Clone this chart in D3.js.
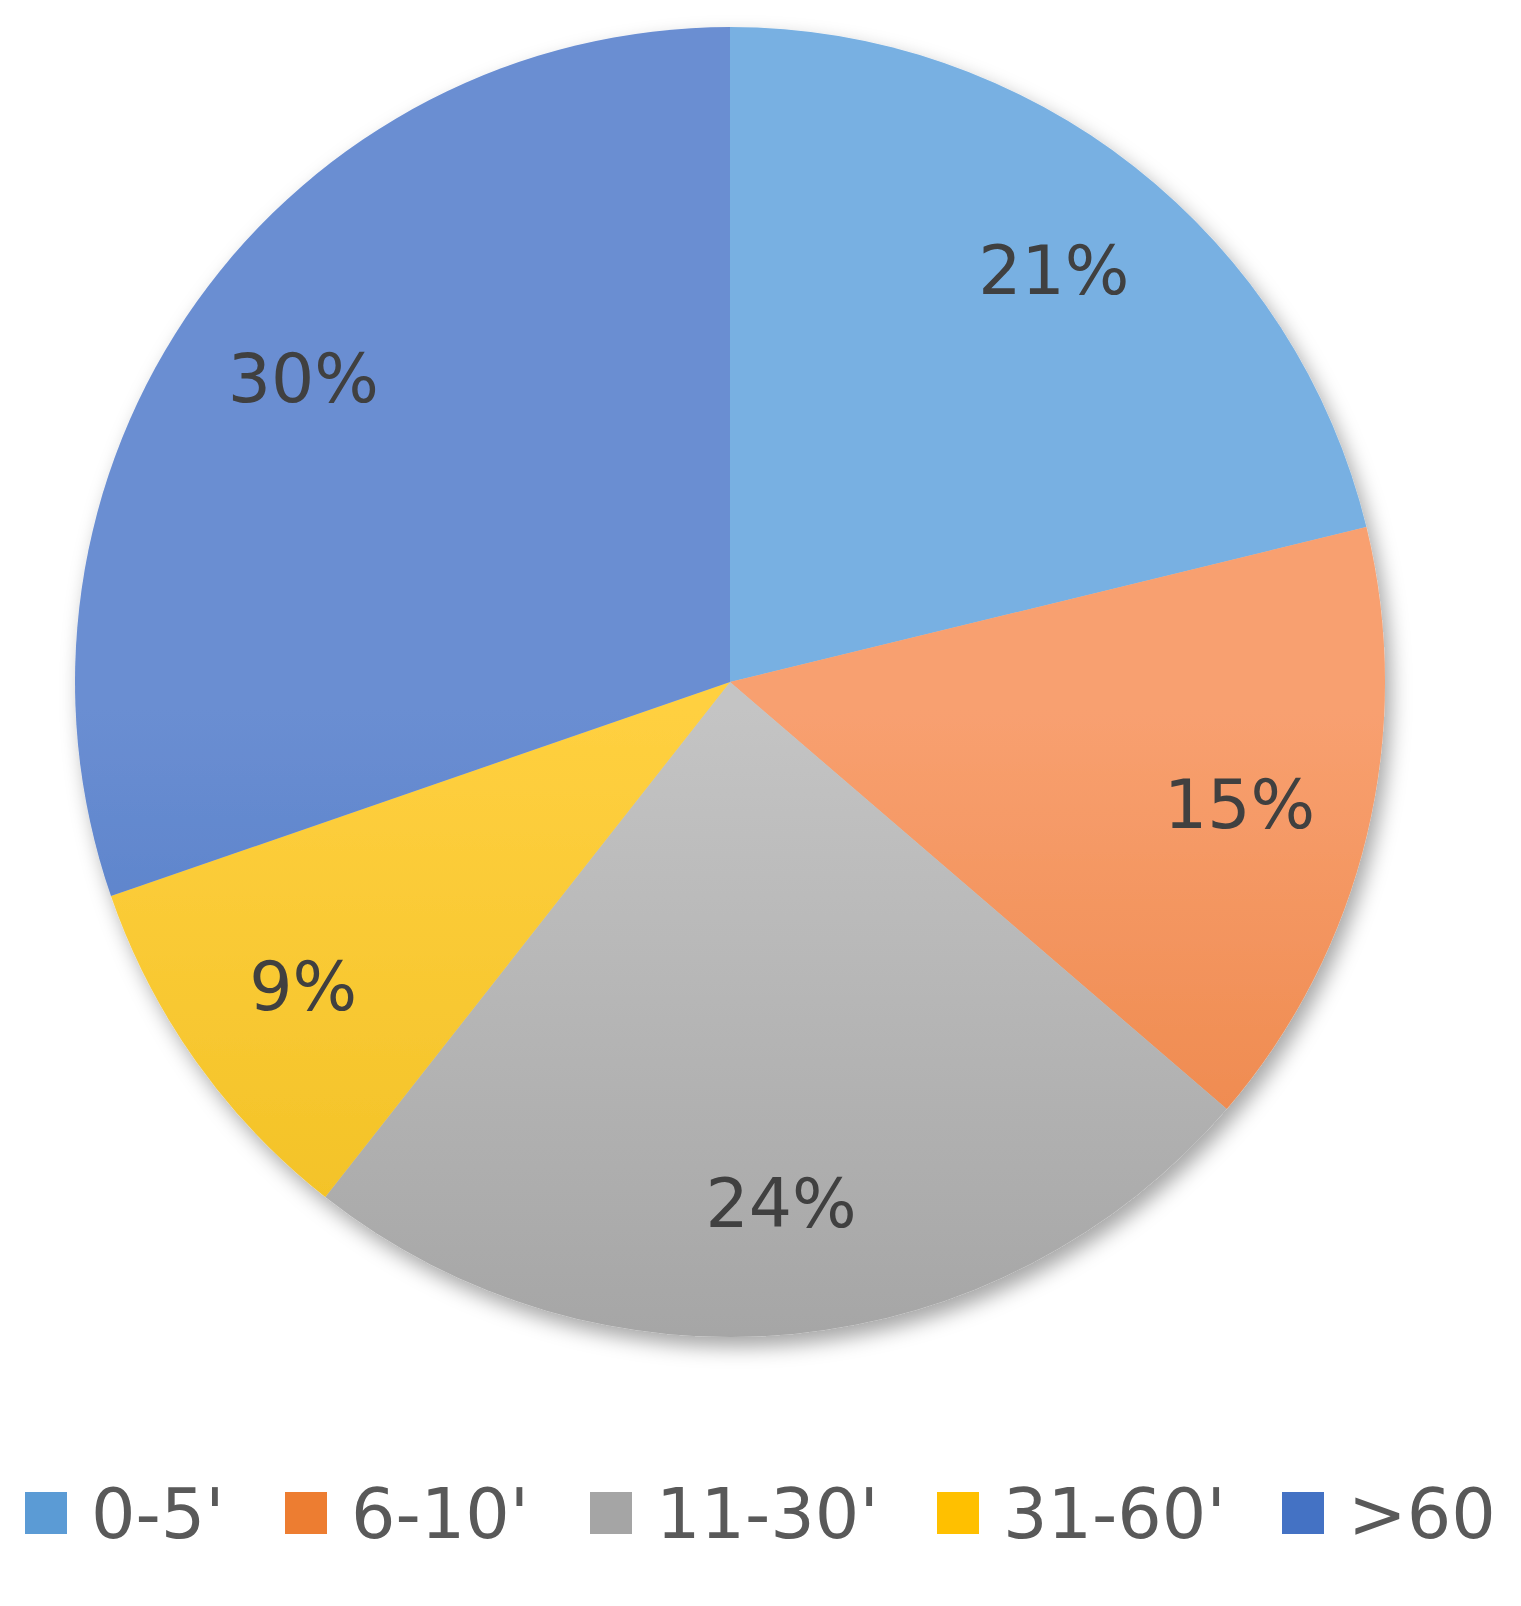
<!DOCTYPE html>
<html>
<head>
<meta charset="utf-8">
<script src="https://cdn.jsdelivr.net/npm/d3@7"></script>
<style>body{margin:0;background:#fff;} text{font-family:"DejaVu Sans",sans-serif;}</style>
</head>
<body>
<svg id="chart" width="1521" height="1606"></svg>
<script>
var categories = ["0-5'", "6-10'", "11-30'", "31-60'", ">60"];
var values = [21.2, 15.1, 24.3, 9.1, 30.3];
var labels = ["21%", "15%", "24%", "9%", "30%"];
var topColors = ["#78b0e2", "#f8a070", "#c4c4c4", "#ffd040", "#6a8ed2"];
var botColors = ["#2e74bd", "#dc5e0a", "#858585", "#e0ad00", "#2154ad"];
var legendColors = ["#5b9bd5", "#ed7d31", "#a5a5a5", "#ffc000", "#4472c4"];

var svg = d3.select("#chart");
var cx = 730, cy = 682, R = 655;
var defs = svg.append("defs");
var f = defs.append("filter").attr("id", "sh").attr("x", "-10%").attr("y", "-10%").attr("width", "120%").attr("height", "120%");
f.append("feDropShadow").attr("dx", 6).attr("dy", 10).attr("stdDeviation", 10).attr("flood-color", "#000").attr("flood-opacity", 0.35);

categories.forEach(function(c, i){
  var g = defs.append("linearGradient").attr("id", "g" + i)
    .attr("gradientUnits", "userSpaceOnUse").attr("x1", 0).attr("y1", cy - R).attr("x2", 0).attr("y2", cy + R);
  g.append("stop").attr("offset", "0").attr("stop-color", topColors[i]);
  g.append("stop").attr("offset", "1").attr("stop-color", botColors[i]);
});

var pie = d3.pie().sort(null).value(function(d){ return d; });
var arc = d3.arc().innerRadius(0).outerRadius(R);
var labelArc = d3.arc().innerRadius(R * 0.8).outerRadius(R * 0.8);
var arcs = pie(values);

var g = svg.append("g").attr("transform", "translate(" + cx + "," + cy + ")");
g.append("g").attr("filter", "url(#sh)").selectAll("path").data(arcs).enter().append("path")
  .attr("d", arc).attr("fill", function(d, i){ return "url(#g" + i + ")"; });

g.selectAll("text.lbl").data(arcs).enter().append("text")
  .attr("class", "lbl")
  .attr("transform", function(d){ return "translate(" + labelArc.centroid(d) + ")"; })
  .attr("text-anchor", "middle").attr("dy", "0.35em")
  .attr("font-size", 68).attr("fill", "#404040")
  .text(function(d, i){ return labels[i]; });

var legX = [25, 285, 590, 937, 1282];
var leg = svg.append("g").selectAll("g").data(categories).enter().append("g")
  .attr("transform", function(d, i){ return "translate(" + legX[i] + ",1492)"; });
leg.append("rect").attr("width", 42).attr("height", 42).attr("fill", function(d, i){ return legendColors[i]; });
leg.append("text").attr("x", 66).attr("y", 21).attr("dy", "0.36em")
  .attr("font-size", 70).attr("fill", "#595959").text(function(d){ return d; });
</script>
</body>
</html>
